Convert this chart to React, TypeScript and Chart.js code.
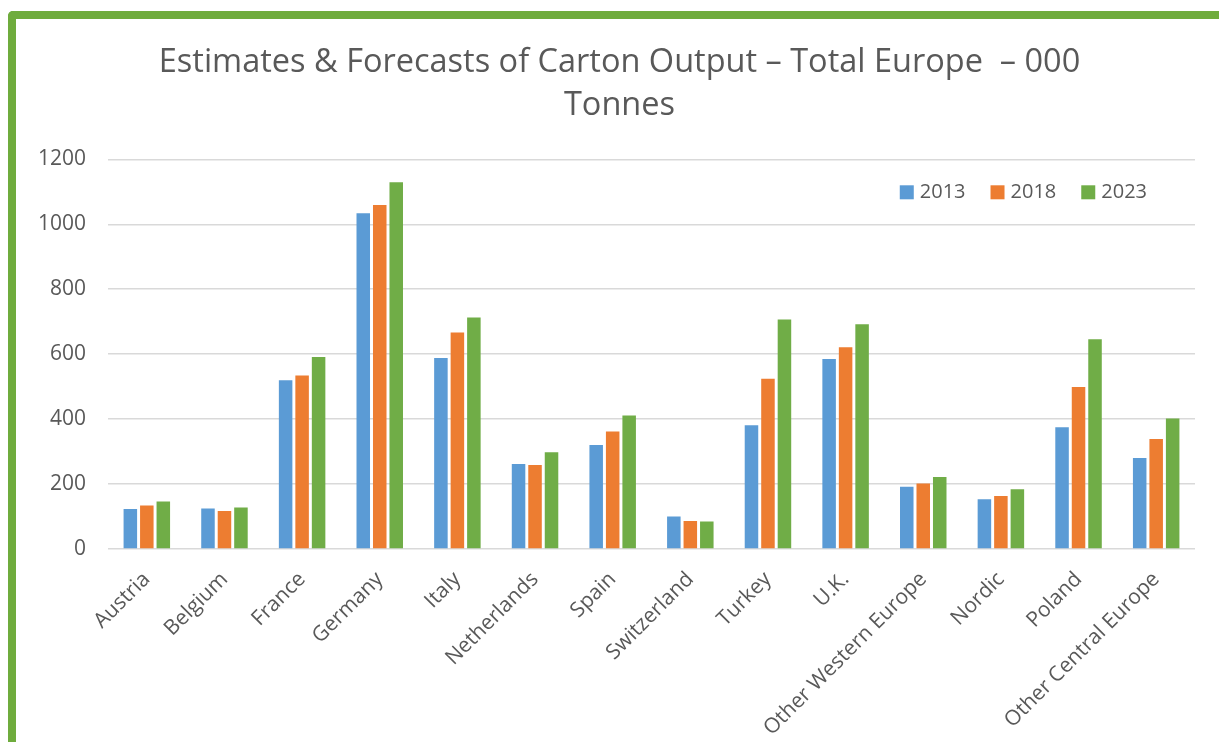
import React, { useEffect, useRef } from "react";
import { Chart, registerables } from "chart.js";

Chart.register(...registerables);

// Carton output by country, thousand tonnes
const categories = [
  "Austria",
  "Belgium",
  "France",
  "Germany",
  "Italy",
  "Netherlands",
  "Spain",
  "Switzerland",
  "Turkey",
  "U.K.",
  "Other Western Europe",
  "Nordic",
  "Poland",
  "Other Central Europe",
];
const output2013 = [123, 125, 520, 1034, 588, 262, 320, 100, 381, 585, 192, 153, 375, 280];
const output2018 = [134, 117, 534, 1059, 667, 259, 362, 86, 524, 621, 202, 163, 499, 339];
const output2023 = [146, 128, 591, 1129, 713, 298, 411, 85, 707, 692, 222, 184, 646, 402];
const seriesLabels = ["2013", "2018", "2023"];
const seriesColors = ["#5B9BD5", "#ED7D31", "#70AD47"];
const yMin = 0;
const yMax = 1200;
const yStep = 200;
const titleLines = ["Estimates & Forecasts of Carton Output – Total Europe  – 000", "Tonnes"];

const FONT = "'Open Sans', sans-serif";
const TEXT = "#595959";
const FRAME = "#6FAC3D";

// Horizontal legend drawn inside the top-right corner of the plot area
const insideLegend = {
  id: "insideLegend",
  afterDraw(chart: any) {
    const { ctx, chartArea } = chart;
    const box = 14;
    const textGap = 6;
    const itemGap = 25;
    ctx.save();
    ctx.font = `20px ${FONT}`;
    ctx.textBaseline = "middle";
    ctx.textAlign = "left";
    const items = chart.data.datasets.map((ds: any) => ({
      label: ds.label as string,
      color: ds.backgroundColor as string,
      w: box + textGap + ctx.measureText(ds.label).width,
    }));
    const total =
      items.reduce((s: number, it: any) => s + it.w, 0) + itemGap * (items.length - 1);
    let x = chartArea.right - 48 - total;
    const cy = chartArea.top + 33;
    for (const it of items) {
      ctx.fillStyle = it.color;
      ctx.fillRect(x, cy - box / 2, box, box);
      ctx.fillStyle = TEXT;
      ctx.fillText(it.label, x + box + textGap, cy);
      x += it.w + itemGap;
    }
    ctx.restore();
  },
};

export default function App() {
  const canvasRef = useRef<HTMLCanvasElement | null>(null);

  useEffect(() => {
    if (!canvasRef.current) return;
    const seriesValues = [output2013, output2018, output2023];
    const chart = new Chart(canvasRef.current, {
      type: "bar",
      data: {
        labels: categories,
        datasets: seriesLabels.map((label, i) => ({
          label,
          data: seriesValues[i],
          backgroundColor: seriesColors[i],
          borderWidth: 0,
          barPercentage: 0.82,
          categoryPercentage: 0.637,
          yAxisID: "y",
        })),
      },
      options: {
        animation: false,
        responsive: true,
        maintainAspectRatio: false,
        layout: { padding: { left: 14, right: 10, top: 0, bottom: 0 } },
        plugins: {
          legend: { display: false },
          tooltip: { enabled: false },
          title: {
            display: true,
            text: titleLines,
            color: TEXT,
            font: { family: FONT, size: 32.5, weight: "normal", lineHeight: 43 / 32.5 },
            padding: { top: 22.5, bottom: 31.8 },
          },
        },
        scales: {
          x: {
            grid: { display: false, drawTicks: false },
            border: { display: false },
            ticks: {
              color: TEXT,
              font: { family: FONT, size: 21 },
              minRotation: 45,
              maxRotation: 45,
              autoSkip: false,
              padding: 18,
            },
            afterFit(scale: any) {
              scale.height = 193;
            },
          },
          y: {
            min: yMin,
            max: yMax,
            grid: { color: "#D9D9D9", lineWidth: 1.5, drawTicks: false },
            border: { display: false },
            ticks: {
              stepSize: yStep,
              color: TEXT,
              font: { family: FONT, size: 21 },
              padding: 22,
              callback: (value: any) => String(value),
            },
            afterFit(scale: any) {
              scale.width = 78;
            },
          },
          // empty right-hand gutter so the plot ends short of the frame
          gutter: {
            type: "linear",
            position: "right",
            grid: { display: false, drawTicks: false },
            border: { display: false },
            ticks: { display: false },
            afterFit(scale: any) {
              scale.width = 14;
            },
          },
        },
      },
      plugins: [insideLegend],
    } as any);
    return () => chart.destroy();
  }, []);

  return (
    <div
      style={{
        position: "absolute",
        left: 8,
        top: 11,
        width: 1211,
        height: 731,
        boxSizing: "border-box",
        borderLeft: `8px solid ${FRAME}`,
        borderTop: `8px solid ${FRAME}`,
        borderTopLeftRadius: 5,
        background: "#FFFFFF",
        overflow: "hidden",
      }}
    >
      <div style={{ position: "relative", width: 1203, height: 723 }}>
        <canvas ref={canvasRef} />
      </div>
    </div>
  );
}
